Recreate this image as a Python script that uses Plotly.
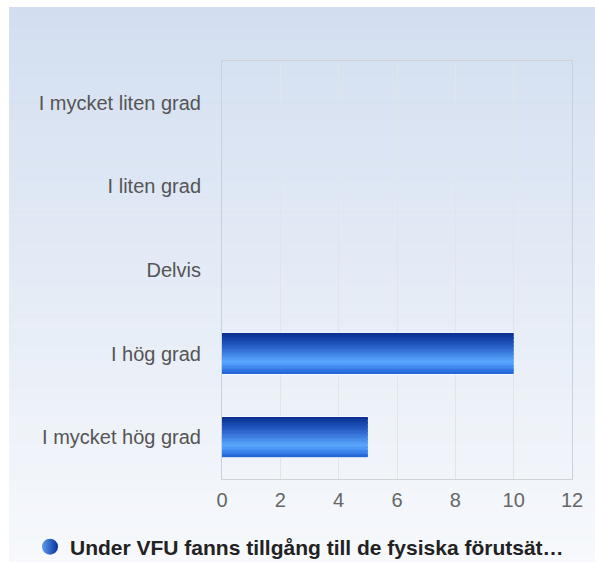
import plotly.graph_objects as go

categories = ["I mycket liten grad", "I liten grad", "Delvis", "I hög grad", "I mycket hög grad"]
values = [0, 0, 0, 10, 5]
series_name = "Under VFU fanns tillgång till de fysiska förutsät…"
x_ticks = [0, 2, 4, 6, 8, 10, 12]

W, H = 595, 562
L, R, T, B = 222, 23, 61, 83
pw, ph = W - L - R, H - T - B

def hex2rgb(h):
    h = h.lstrip("#")
    return tuple(int(h[i:i + 2], 16) for i in (0, 2, 4))

def interp(stops, t):
    for (t0, c0), (t1, c1) in zip(stops, stops[1:]):
        if t0 <= t <= t1:
            f = (t - t0) / (t1 - t0) if t1 > t0 else 0
            a, b = hex2rgb(c0), hex2rgb(c1)
            return "rgb(%d,%d,%d)" % tuple(round(a[k] + (b[k] - a[k]) * f) for k in range(3))
    return stops[-1][1]

bar_stops = [(0.0, "#082d8e"), (0.3, "#2459c2"), (0.72, "#5aa8ff"), (0.88, "#3c82ec"), (1.0, "#2163d4")]
bg_stops = [(0.0, "#d2def0"), (1.0, "#f7f9fc")]

fig = go.Figure()
BW = 0.48
N = 30
sw = BW / N
fig.add_trace(go.Bar(y=categories, x=values, orientation="h", width=BW + 0.02,
                     marker=dict(color="white", line=dict(width=0)), showlegend=False, hoverinfo="skip"))
for i in range(N):
    t = (i + 0.5) / N
    fig.add_trace(go.Bar(y=categories, x=values, orientation="h", width=sw * 1.05,
                         offset=-BW / 2 + i * sw, base=0,
                         marker=dict(color=interp(bar_stops, t), line=dict(width=0)),
                         showlegend=False, hoverinfo="skip"))

fig.add_trace(go.Scatter(x=[None], y=[None], mode="markers", name=series_name,
                         marker=dict(symbol="circle", size=22, color="#5a9cf0",
                                     gradient=dict(type="horizontal", color="#0a2f9a"),
                                     line=dict(width=0))))

shapes = []
NB = 80
x0p, x1p = (9 - L) / pw, (W - L) / pw
top_px, bot_px = 7, H
for i in range(NB):
    y_top = top_px + (bot_px - top_px) * i / NB
    y_bot = top_px + (bot_px - top_px) * (i + 1) / NB + 0.5
    t = (i + 0.5) / NB
    shapes.append(dict(type="rect", xref="paper", yref="paper", layer="below",
                       x0=x0p, x1=x1p, y0=(T + ph - y_bot) / ph, y1=(T + ph - y_top) / ph,
                       fillcolor=interp(bg_stops, t), line=dict(width=0)))

fig.update_layout(
    width=W, height=H,
    margin=dict(l=L, r=R, t=T, b=B, pad=0, autoexpand=False),
    paper_bgcolor="white", plot_bgcolor="rgba(0,0,0,0)",
    barmode="overlay", bargap=0.52,
    shapes=shapes,
    font=dict(family="Liberation Sans, Arial, sans-serif", size=20, color="#555555"),
    xaxis=dict(range=[0, 12], tickvals=x_ticks, showgrid=True, gridcolor="#e2e4e8", gridwidth=1,
               showline=True, linecolor="#d0d2d6", linewidth=1, mirror=True, zeroline=False,
               ticks="", tickfont=dict(size=20, color="#666666"), ticklabelstandoff=3, fixedrange=True),
    yaxis=dict(categoryorder="array", categoryarray=categories, autorange="reversed",
               showgrid=False, showline=True, linecolor="#c9d1e1", linewidth=1, mirror=True,
               ticks="", tickfont=dict(size=20, color="#555555"), ticklabelstandoff=16),
    showlegend=True,
    legend=dict(orientation="h", xref="container", yref="container",
                x=30 / W, xanchor="left", y=1 - 547 / H, yanchor="middle",
                font=dict(size=21, color="#222222", family="Liberation Sans, Arial, sans-serif", weight="bold"),
                bgcolor="rgba(0,0,0,0)", itemsizing="trace"),
)

fig.write_html("out.html", config={"displayModeBar": False},
               post_script="document.body.style.margin='0';document.body.style.overflow='hidden';")
